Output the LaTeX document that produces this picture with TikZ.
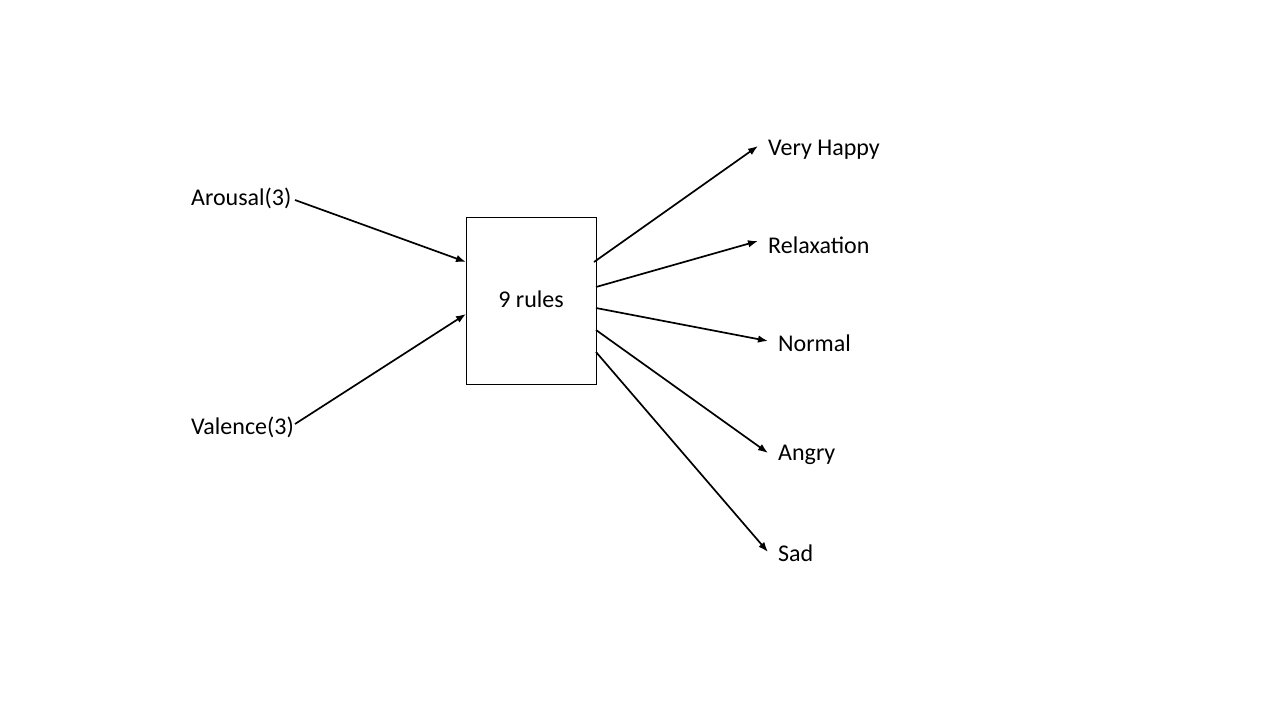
\documentclass[tikz,border=0pt]{standalone}
\usepackage{fontspec}
\setmainfont{Carlito}
\usetikzlibrary{arrows.meta}
\begin{document}
\begin{tikzpicture}[x=1pt,y=-1pt,
  lbl/.style={font=\fontsize{24}{28}\selectfont, inner sep=2pt, anchor=west},
  outlbl/.style={font=\fontsize{24}{28}\selectfont, inner ysep=2pt, inner xsep=10pt, anchor=west},
  rulebox/.style={draw, line width=0.9pt, minimum width=130pt, minimum height=167pt, inner sep=0pt, font=\fontsize{24}{28}\selectfont},
  conn/.style={line width=1.7pt, -{Latex[length=10pt,width=7.5pt]}}]
\useasboundingbox (0,0) rectangle (1280,720);
\fill[white] (0,0) rectangle (1280,720);
\node[rulebox] (box) at (531,300.5) {\raisebox{2pt}{9 rules}};
\node[lbl] (ar) at (189,198) {Arousal(3)};
\node[lbl] (va) at (189,427) {Valence(3)};
\node[outlbl] (vh) at (758,150) {Very Happy};
\node[outlbl] (rx) at (758,245) {Relaxation};
\node[outlbl] (nm) at (768,343) {Normal};
\node[outlbl] (an) at (768,455) {Angry};
\node[outlbl] (sd) at (768,553) {Sad};
\coordinate (ain) at (466,262);
\coordinate (vin) at (466,314);
\coordinate (o1) at (594,262);
\coordinate (o2) at (596,287);
\coordinate (o3) at (596,308);
\coordinate (o4) at (596,330);
\coordinate (o5) at (596,352);
\coordinate (as) at (295,200);
\coordinate (vs) at (295,424);
\draw[conn] (as) -- (ain);
\draw[conn] (vs) -- (vin);
\draw[conn] (o1) -- ([yshift=4pt]vh.west);
\draw[conn] (o2) -- ([yshift=4pt]rx.west);
\draw[conn] (o3) -- ([yshift=2pt]nm.west);
\draw[conn] (o4) -- ([yshift=2pt]an.west);
\draw[conn] (o5) -- ([yshift=1pt]sd.west);
\end{tikzpicture}
\end{document}
